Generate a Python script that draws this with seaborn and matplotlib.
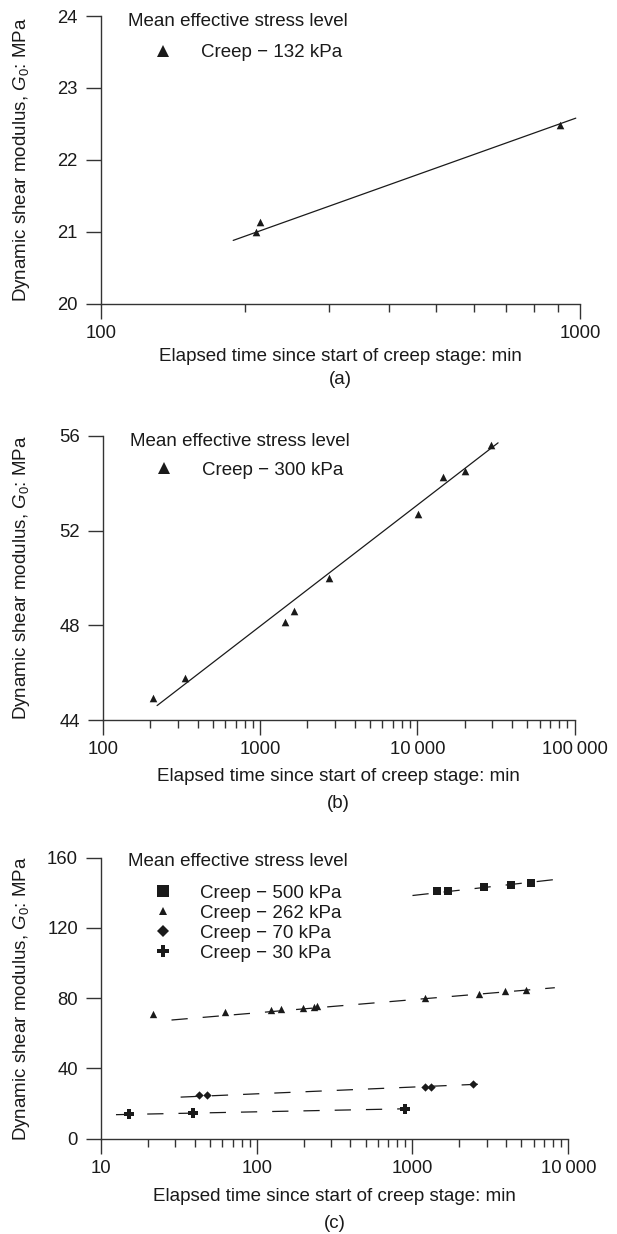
import matplotlib
matplotlib.use('Agg')
import matplotlib.pyplot as plt
from matplotlib.lines import Line2D
from matplotlib.ticker import LogLocator, NullFormatter
import seaborn as sns

# ---- data ----
# (a) creep at 132 kPa
a_time = [211, 215, 908]
a_g0 = [20.99, 21.13, 22.48]
a_fit_time = [189, 980]
a_fit_g0 = [20.88, 22.58]

# (b) creep at 300 kPa
b_time = [209, 331, 1443, 1647, 2748, 10080, 14650, 20100, 29400]
b_g0 = [44.96, 45.77, 48.13, 48.60, 49.99, 52.70, 54.27, 54.52, 55.61]
b_fit_time = [221, 32600]
b_fit_g0 = [44.62, 55.70]

# (c) four stress levels
c500_time = [1438, 1702, 2870, 4310, 5760]
c500_g0 = [140.8, 140.8, 143.6, 144.6, 145.9]
c500_fit_time = [1000, 8200]
c500_fit_g0 = [138.5, 147.6]

c262_time = [21.5, 62.6, 122.7, 142.7, 197.6, 233.7, 244.8, 1202, 2676, 3948, 5370]
c262_g0 = [71.3, 71.9, 73.2, 73.8, 74.6, 75.1, 75.3, 80.3, 82.7, 83.9, 84.8]
c262_fit_time = [28.4, 8200]
c262_fit_g0 = [67.6, 86.0]

c70_time = [42.7, 47.7, 1208, 1318, 2438]
c70_g0 = [24.9, 24.9, 29.6, 29.6, 30.9]
c70_fit_time = [32.5, 2739]
c70_fit_g0 = [23.7, 31.1]

c30_time = [15.2, 38.9, 898]
c30_g0 = [13.9, 14.4, 16.9]
c30_fit_time = [12.5, 958]
c30_fit_g0 = [13.7, 17.1]

a_yticks = [20, 21, 22, 23, 24]
b_yticks = [44, 48, 52, 56]
c_yticks = [0, 40, 80, 120, 160]
a_xticks = [100, 1000]
b_xticks = [100, 1000, 10000, 100000]
c_xticks = [10, 100, 1000, 10000]
a_xticklabels = ['100', '1000']
b_xticklabels = ['100', '1000', '10\u2009000', '100\u2009000']
c_xticklabels = ['10', '100', '1000', '10\u2009000']

sns.set_style('ticks')
plt.rcParams['font.family'] = ['Liberation Sans', 'DejaVu Sans']
plt.rcParams['mathtext.fontset'] = 'custom'
plt.rcParams['mathtext.rm'] = 'Liberation Sans'
plt.rcParams['mathtext.it'] = 'Liberation Sans:italic'
plt.rcParams['font.size'] = 13

ink = '#1a1a1a'
fs = 13.5
fig = plt.figure(figsize=(6.17, 12.34), dpi=100)
ax_a = fig.add_axes([0.1632, 0.7539, 0.7768, 0.2331])
ax_b = fig.add_axes([0.1668, 0.4163, 0.7645, 0.2306])
ax_c = fig.add_axes([0.1635, 0.0772, 0.7575, 0.2277])

xlab = 'Elapsed time since start of creep stage: min'
ylab = r'Dynamic shear modulus, $G_0$: MPa'


def style_axis(ax, xlim, ylim, xticks, xticklabels, yticks, ylab_x, xlab_y, tag, tag_y):
    ax.set_xscale('log')
    ax.set_xticks(xticks)
    ax.set_xticklabels(xticklabels)
    ax.xaxis.set_minor_locator(LogLocator(base=10, subs=range(2, 10)))
    ax.xaxis.set_minor_formatter(NullFormatter())
    ax.set_xlim(*xlim)
    ax.set_yticks(yticks)
    ax.set_yticklabels([str(v) for v in yticks])
    ax.set_ylim(*ylim)
    sns.despine(ax=ax)
    for s in ['left', 'bottom']:
        ax.spines[s].set_linewidth(1.0)
        ax.spines[s].set_color('#333333')
    ax.tick_params(which='major', length=11, width=1.0, color='#333333',
                   labelsize=13.3, labelcolor=ink)
    ax.tick_params(axis='x', which='major', pad=4)
    ax.tick_params(axis='y', which='major', pad=5.5)
    ax.tick_params(which='minor', length=5.5, width=1.0, color='#333333')
    ax.set_xlabel(xlab, fontsize=fs, color=ink, va='center')
    ax.xaxis.set_label_coords(0.5, xlab_y)
    ax.set_ylabel(ylab, fontsize=fs, color=ink, va='center')
    ax.yaxis.set_label_coords(ylab_x, 0.5)
    ax.text(0.5, tag_y, tag, transform=ax.transAxes, ha='center', va='center',
            fontsize=fs, color=ink)


def add_legend(ax, title_x, title_y, entry_top, handles):
    ax.text(title_x, title_y, 'Mean effective stress level', transform=ax.transAxes,
            ha='left', va='center', fontsize=fs, color=ink)
    ax.legend(handles=handles, loc='upper left', bbox_to_anchor=(title_x, entry_top),
              frameon=False, borderpad=0, borderaxespad=0, handlelength=3.7,
              handletextpad=0.15, labelspacing=0.16, fontsize=fs, labelcolor=ink)


def h(marker, size, label):
    return Line2D([], [], linestyle='none', marker=marker, markersize=size,
                  markerfacecolor=ink, markeredgewidth=0, label=label)


solid = dict(color=ink, linewidth=0.9, legend=False)
dashed = dict(color=ink, linewidth=0.9, legend=False, linestyle=(0, (13, 12)))

# (a)
sns.lineplot(x=a_fit_time, y=a_fit_g0, ax=ax_a, **solid)
sns.scatterplot(x=a_time, y=a_g0, ax=ax_a, marker='^', s=30, color=ink, linewidth=0)
style_axis(ax_a, (100, 1000), (20, 24), a_xticks, a_xticklabels, a_yticks,
           -0.165, -0.184, '(a)', -0.262)
add_legend(ax_a, 0.058, 0.980, 0.903, [h('^', 8, 'Creep \u2212 132 kPa')])

# (b)
sns.lineplot(x=b_fit_time, y=b_fit_g0, ax=ax_b, **solid)
sns.scatterplot(x=b_time, y=b_g0, ax=ax_b, marker='^', s=30, color=ink, linewidth=0)
style_axis(ax_b, (100, 100000), (44, 56), b_xticks, b_xticklabels, b_yticks,
           -0.172, -0.198, '(b)', -0.292)
add_legend(ax_b, 0.0566, 0.979, 0.909, [h('^', 8, 'Creep \u2212 300 kPa')])

# (c)
for t, g, ft, fg, m, s in [
        (c500_time, c500_g0, c500_fit_time, c500_fit_g0, 's', 40),
        (c262_time, c262_g0, c262_fit_time, c262_fit_g0, '^', 28),
        (c70_time, c70_g0, c70_fit_time, c70_fit_g0, 'D', 18),
        (c30_time, c30_g0, c30_fit_time, c30_fit_g0, 'P', 48)]:
    sns.lineplot(x=ft, y=fg, ax=ax_c, **dashed)
    sns.scatterplot(x=t, y=g, ax=ax_c, marker=m, s=s, color=ink, linewidth=0)
style_axis(ax_c, (10, 10000), (0, 160), c_xticks, c_xticklabels, c_yticks,
           -0.169, -0.206, '(c)', -0.301)
add_legend(ax_c, 0.0586, 0.986, 0.905, [
    h('s', 8.6, 'Creep \u2212 500 kPa'),
    h('^', 6, 'Creep \u2212 262 kPa'),
    h('D', 6.2, 'Creep \u2212 70 kPa'),
    h('P', 8.8, 'Creep \u2212 30 kPa'),
])

fig.savefig('out.png', dpi=100)
